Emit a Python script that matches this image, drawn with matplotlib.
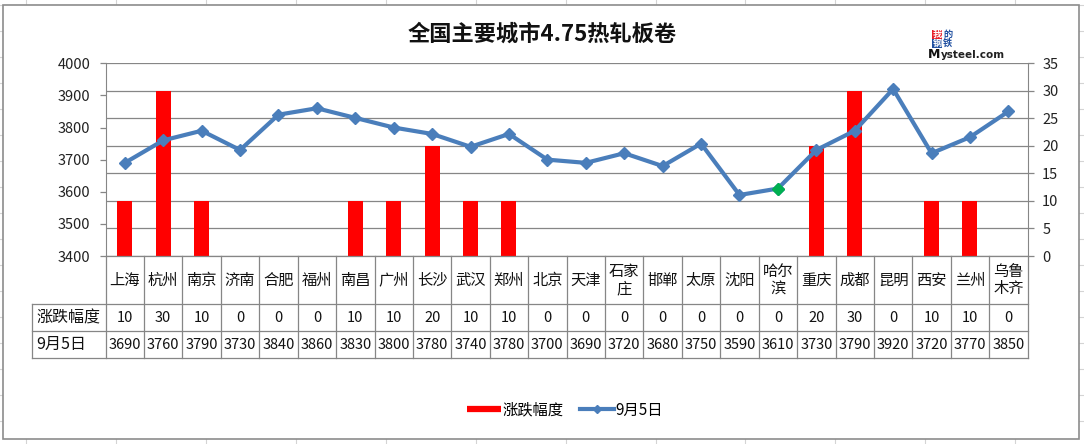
import matplotlib
matplotlib.use("Agg")
import matplotlib.pyplot as plt
import matplotlib.transforms as mtransforms
from matplotlib.lines import Line2D
from matplotlib.patches import Rectangle

plt.rcParams['font.family'] = ['Noto Sans CJK SC', 'DejaVu Sans']

# data
cities = ["上海", "杭州", "南京", "济南", "合肥", "福州", "南昌", "广州", "长沙", "武汉",
          "郑州", "北京", "天津", "石家\n庄", "邯郸", "太原", "沈阳", "哈尔\n滨", "重庆",
          "成都", "昆明", "西安", "兰州", "乌鲁\n木齐"]
change = [10, 30, 10, 0, 0, 0, 10, 10, 20, 10, 10, 0, 0, 0, 0, 0, 0, 0, 20, 30, 0, 10, 10, 0]
price = [3690, 3760, 3790, 3730, 3840, 3860, 3830, 3800, 3780, 3740, 3780, 3700, 3690,
         3720, 3680, 3750, 3590, 3610, 3730, 3790, 3920, 3720, 3770, 3850]
highlight = 17  # 哈尔滨, green marker

W, H = 1084, 444
fig = plt.figure(figsize=(W / 100, H / 100), dpi=100)
fig.patch.set_facecolor("white")

# spreadsheet cells behind the chart
for k in range(13):
    x = (25.8 + 89.96 * k) / W
    fig.add_artist(Line2D([x, x], [0, 1], transform=fig.transFigure, color="#d4d4d4", lw=0.8, zorder=0.1))
for k in range(18):
    y = 1 - (4.7 + 26 * k) / H
    fig.add_artist(Line2D([0, 1], [y, y], transform=fig.transFigure, color="#d4d4d4", lw=0.8, zorder=0.1))

# chart area
fig.add_artist(Rectangle((3.4 / W, 1 - 439 / H), (1079 - 3.4) / W, (439 - 5.2) / H,
                         transform=fig.transFigure, facecolor="white", edgecolor="#8c8c8c",
                         lw=1.2, zorder=0.5))

gray = "#868686"
blue = "#4A7EBB"

ax = fig.add_axes([105.6 / W, 1 - 256 / H, (1027.6 - 105.6) / W, (256 - 63.3) / H])
ax2 = ax.twinx()
ax.set_zorder(2)
ax2.set_zorder(1)
ax.patch.set_visible(False)
ax2.patch.set_visible(False)

xs = list(range(len(cities)))

# bars on the secondary scale
ax2.bar(xs, change, width=0.39, color="#FF0000", zorder=2)
ax2.set_ylim(0, 35)
ax2.set_yticks(range(0, 36, 5))
ax2.yaxis.grid(True, color=gray, lw=0.9)
ax2.set_axisbelow(True)

# price line on the primary scale
ax.plot(xs, price, color=blue, lw=3, marker="D", ms=6.5, zorder=3)
ax.plot([xs[highlight]], [price[highlight]], ls="none", marker="D", ms=6.5,
        color="#00B050", zorder=4)
ax.set_ylim(3400, 4000)
ax.set_yticks(range(3400, 4001, 100))
ax.set_xlim(-0.5, len(cities) - 0.5)
ax.set_xticks([])

for a in (ax, ax2):
    for s in a.spines.values():
        s.set_visible(False)
    a.tick_params(axis="y", direction="out", length=4.5, width=0.9, color=gray,
                  labelsize=10.5, labelcolor="#222222")
ax.spines["left"].set_visible(True)
ax.spines["left"].set_color(gray)
ax2.spines["right"].set_visible(True)
ax2.spines["right"].set_color(gray)
ax.tick_params(axis="y", pad=6.5)
ax2.tick_params(axis="y", pad=6)

# data table under the plot
tr = mtransforms.blended_transform_factory(ax.transData, ax.transAxes)
n = len(cities)
y_head, y_r1, y_r2 = -0.2491, -0.3892, -0.5309
x_lab = -2.423
lk = dict(transform=tr, color=gray, lw=0.9, clip_on=False, zorder=5)
ax.plot([-0.5, n - 0.5], [0, 0], **lk)
ax.plot([x_lab, n - 0.5], [y_head, y_head], **lk)
ax.plot([x_lab, n - 0.5], [y_r1, y_r1], **lk)
ax.plot([x_lab, n - 0.5], [y_r2, y_r2], **lk)
ax.plot([x_lab, x_lab], [y_head, y_r2], **lk)
for i in range(n + 1):
    ax.plot([i - 0.5, i - 0.5], [0, y_r2], **lk)

tk = dict(transform=tr, ha="center", va="center", color="#111111", clip_on=False)
for i in range(n):
    ax.text(i, y_head / 2, cities[i], fontsize=11, linespacing=1.05, **tk)
    ax.text(i, (y_head + y_r1) / 2, str(change[i]), fontsize=10.5, **tk)
    ax.text(i, (y_r1 + y_r2) / 2, str(price[i]), fontsize=10.5, **tk)
ax.text(x_lab + 0.12, (y_head + y_r1) / 2, "涨跌幅度", fontsize=11.5, transform=tr,
        ha="left", va="center", color="#111111", clip_on=False)
ax.text(x_lab + 0.12, (y_r1 + y_r2) / 2, "9月5日", fontsize=11.5, transform=tr,
        ha="left", va="center", color="#111111", clip_on=False)

# title
fig.text(542 / W, 1 - 34 / H, "全国主要城市4.75热轧板卷", ha="center", va="center",
         fontsize=16, fontweight="bold", color="#111111")

# logo
lg = dict(ha="center", va="center", fontsize=6.6, fontweight="bold")
fig.text(937 / W, 1 - 34.5 / H, "我", color="white",
         bbox=dict(boxstyle="square,pad=0.02", fc="#E8202A", ec="none"), **lg)
fig.text(947.5 / W, 1 - 34.5 / H, "的", color="#1F4FA0", **lg)
fig.text(937 / W, 1 - 43.5 / H, "钢", color="white",
         bbox=dict(boxstyle="square,pad=0.02", fc="#1F4FA0", ec="none"), **lg)
fig.text(947.5 / W, 1 - 43.5 / H, "铁", color="#1F4FA0", **lg)
fig.text(928 / W, 1 - 54 / H, "M", ha="left", va="center", fontsize=9,
         fontweight="bold", color="#111111", family="DejaVu Sans")
fig.text(941 / W, 1 - 55 / H, "ysteel.com", ha="left", va="center", fontsize=7.5,
         fontweight="bold", color="#222222", family="DejaVu Sans")

# legend
handles = [Line2D([], [], color="#FF0000", lw=4.5, solid_capstyle="butt"),
           Line2D([], [], color=blue, lw=3, marker="D", ms=4.5)]
fig.legend(handles, ["涨跌幅度", "9月5日"], loc="center", bbox_to_anchor=(565 / W, 1 - 410 / H),
           ncol=2, frameon=False, fontsize=11, handlelength=2.2, handletextpad=0.1,
           columnspacing=1.1)

fig.savefig("out.png", dpi=100, facecolor="white")
